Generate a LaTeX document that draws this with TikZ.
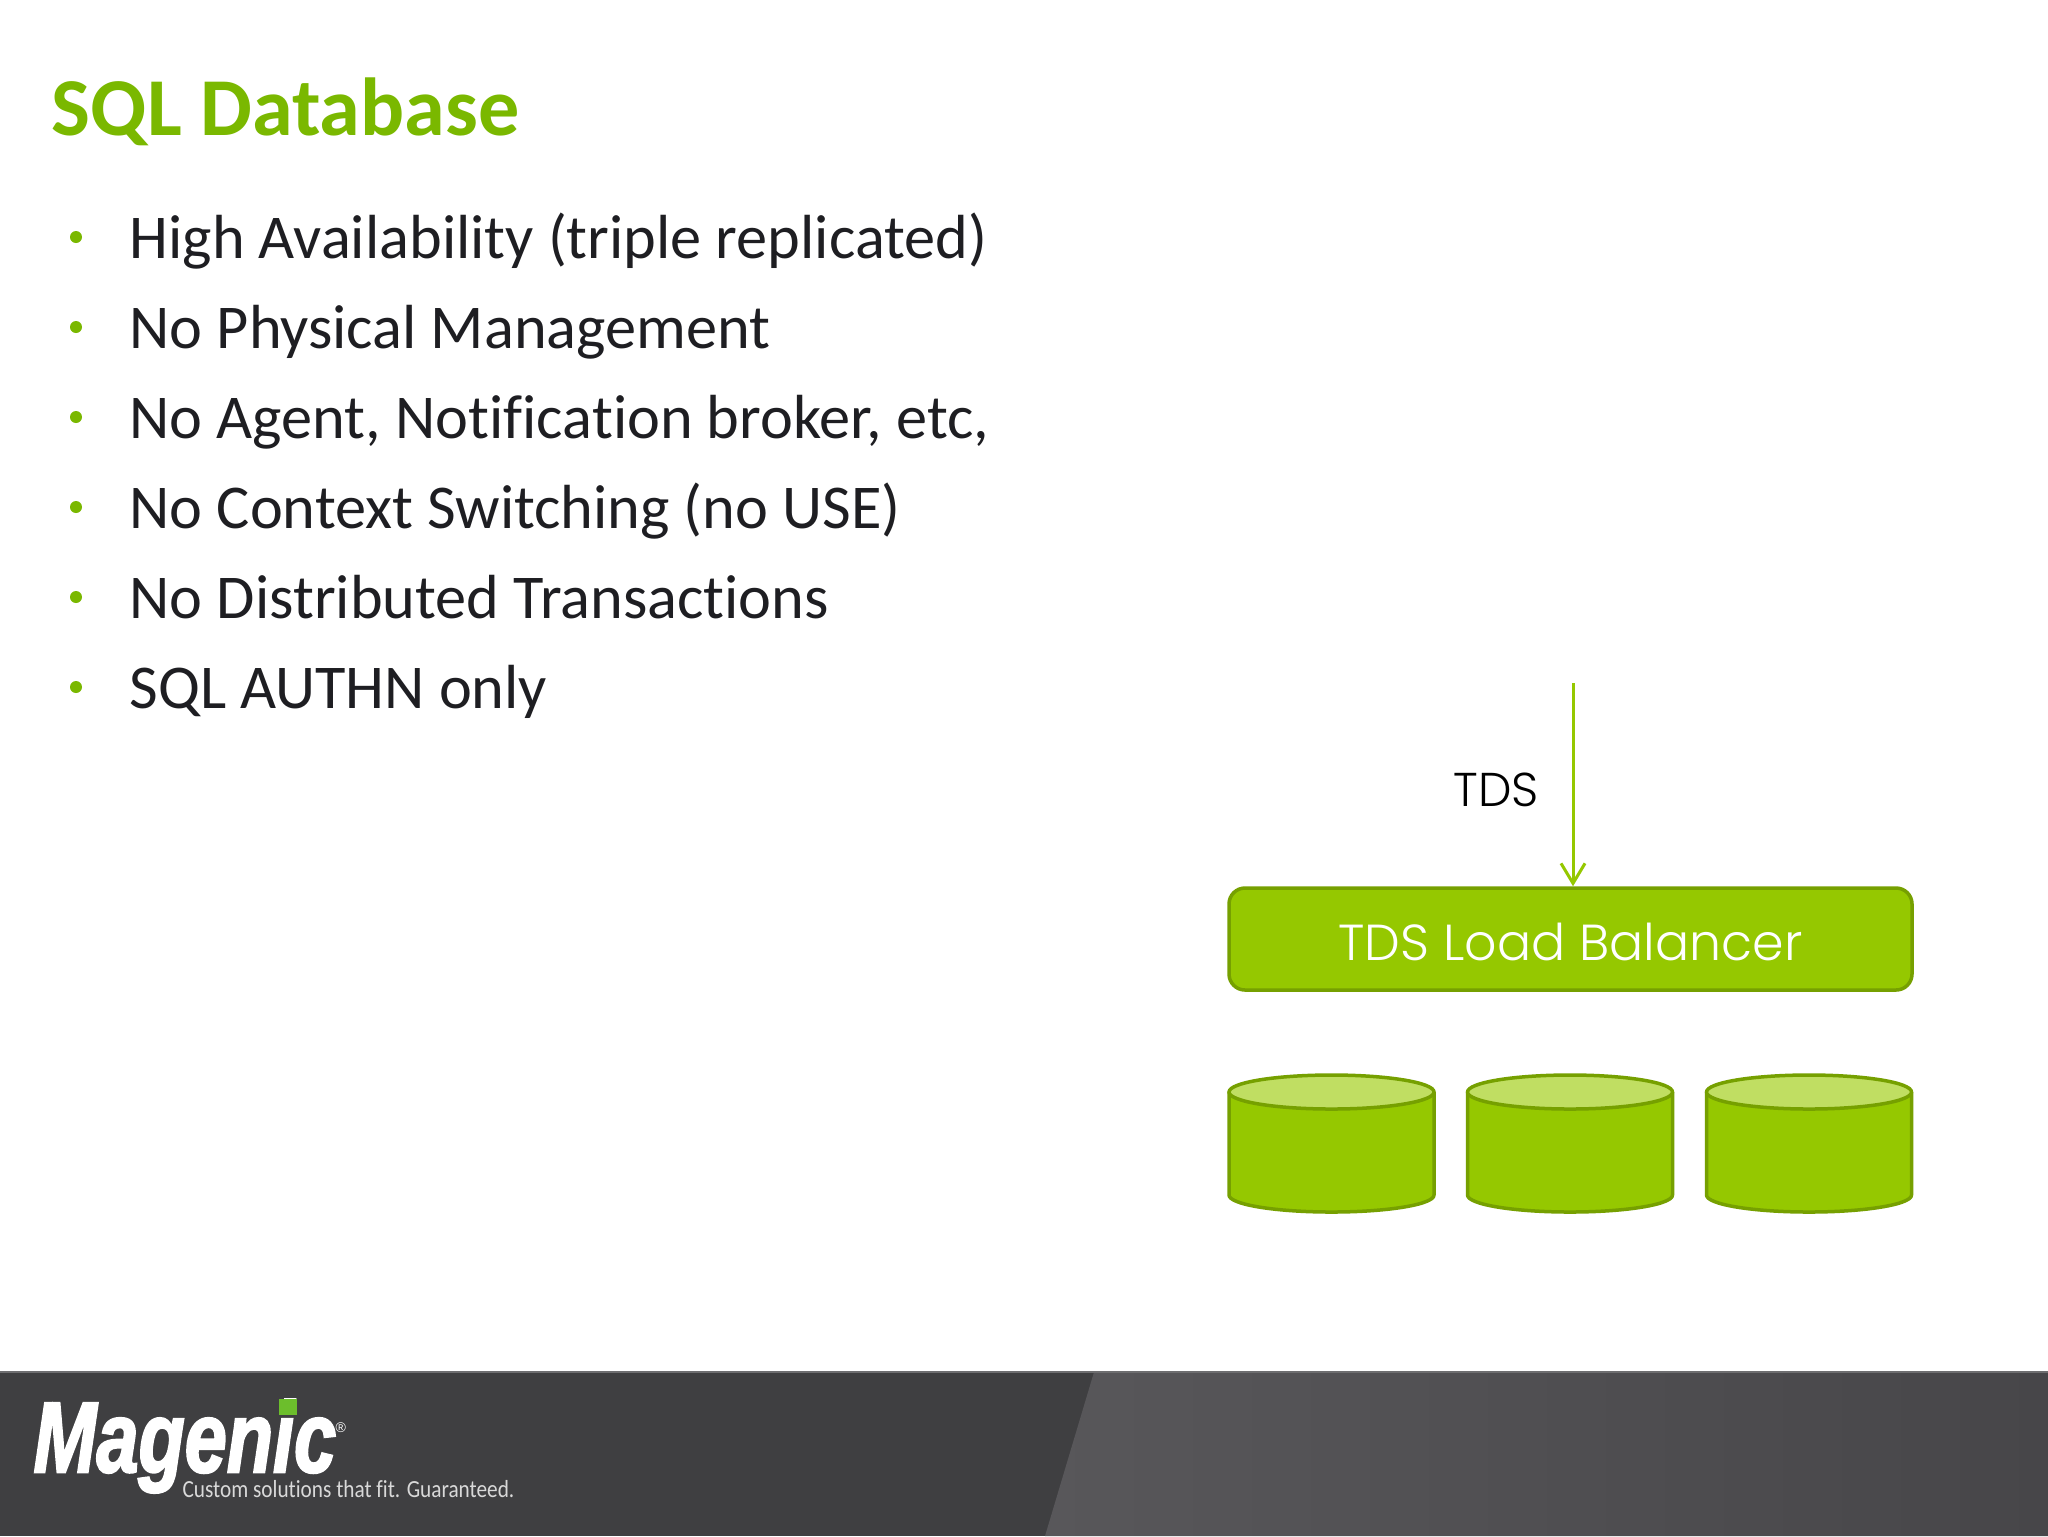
\documentclass[tikz,border=0pt]{standalone}
\usepackage{fontspec}
\usepackage{xcolor}
\setmainfont{Carlito}[Ligatures=NoCommon]
\newfontfamily\gothfont{Poppins Light}
\newfontfamily\logofont{Liberation Sans}[BoldItalicFeatures={FakeBold=2.5}]
\usetikzlibrary{arrows.meta,positioning,calc}

\definecolor{slidegreen}{HTML}{7AB800}
\definecolor{logogreen}{HTML}{6CBE2C}
\definecolor{boxfill}{HTML}{95C800}
\definecolor{boxline}{HTML}{76A000}
\definecolor{cylcap}{HTML}{C0DE62}
\definecolor{bodytext}{HTML}{1E1E22}
\definecolor{footdark}{HTML}{3F3F41}
\definecolor{footlight}{HTML}{58575A}
\definecolor{footright}{HTML}{474649}
\definecolor{footedge}{HTML}{6E6E70}

\tikzset{
    bullettext/.style={anchor=base west, inner sep=0pt, text=bodytext, font=\fontsize{17.73}{20}\selectfont},
    bulletdot/.style={circle, fill=slidegreen, inner sep=0pt, minimum size=1.2mm},
    dbpart/.style={draw=boxline, line width=0.35mm, line join=round},
}

\begin{document}
\begin{tikzpicture}[x=0.1mm,y=-0.1mm]
        \useasboundingbox (0,0) rectangle (2048,1536);
        \fill[white] (0,0) rectangle (2048,1536);

        \begin{scope}
            \fill[footdark] (0,1372) rectangle (2048,1536);
            \shade[left color=footlight, right color=footright] (1094,1372) -- (2048,1372) -- (2048,1536) -- (1045,1536) -- cycle;
            \fill[footedge] (0,1371) rectangle (2048,1373);
            \node[anchor=base west, inner sep=0pt, text=white, xscale=0.755, font=\logofont\bfseries\itshape\fontsize{28.5}{30}\selectfont] (logo) at (33,1472) {Magenic};
            \fill[logogreen] (279,1399) rectangle (297,1415);
            \node[anchor=west, inner sep=0pt, text=white, font=\logofont\fontsize{4}{5}\selectfont] (reg) at (335,1428) {®};
            \node[anchor=base west, inner sep=0pt, text=white!85!black, xscale=0.865, font=\fontsize{7}{8}\selectfont] (tagline) at (182,1497) {Custom solutions that fit. Guaranteed.};
        \end{scope}

        \node[anchor=base west, inner sep=0pt, text=slidegreen, font=\bfseries\fontsize{23.4}{26}\selectfont] (title) at (51,135) {SQL Database};

        \foreach \n/\ypos/\txt in {1/258/High Availability (triple replicated),
                                   2/348/No Physical Management,
                                   3/438/{No Agent, Notification broker, etc,},
                                   4/528/No Context Switching (no USE),
                                   5/618/No Distributed Transactions,
                                   6/708/SQL AUTHN only} {
            \node[bulletdot] (dot\n) at (76,\ypos-21) {};
            \node[bullettext] (item\n) at (129,\ypos) {\txt};
        }

        \node[draw=boxline, line width=0.35mm, fill=boxfill, rounded corners=1.6mm, minimum width=68.3mm, minimum height=10.2mm, inner sep=0pt, text=white, font=\gothfont\fontsize{14.4}{16}\selectfont] (balancer) at (1570.5,939) {\raisebox{-2.1mm}[0pt][0pt]{TDS Load Balancer}};
        \coordinate (tdsin) at (1573,683);
        \draw[boxfill, line width=0.3mm, -{Straight Barb[length=2mm,width=2.4mm]}] (tdsin) -- (balancer.north -| tdsin);
        \node[text=black, inner sep=0pt, font=\gothfont\fontsize{13.5}{15}\selectfont] (tds) at (1496,790) {TDS};

        \foreach \cx in {1331.5,1570,1809} {
            \draw[dbpart, fill=boxfill] (\cx-102.5,1092) -- (\cx-102.5,1195)
                arc[start angle=180, end angle=0, x radius=102.5, y radius=17] -- (\cx+102.5,1092) -- cycle;
            \draw[dbpart, fill=cylcap] (\cx,1092) ellipse [x radius=102.5, y radius=17];
        }
    \end{tikzpicture}
\end{document}
